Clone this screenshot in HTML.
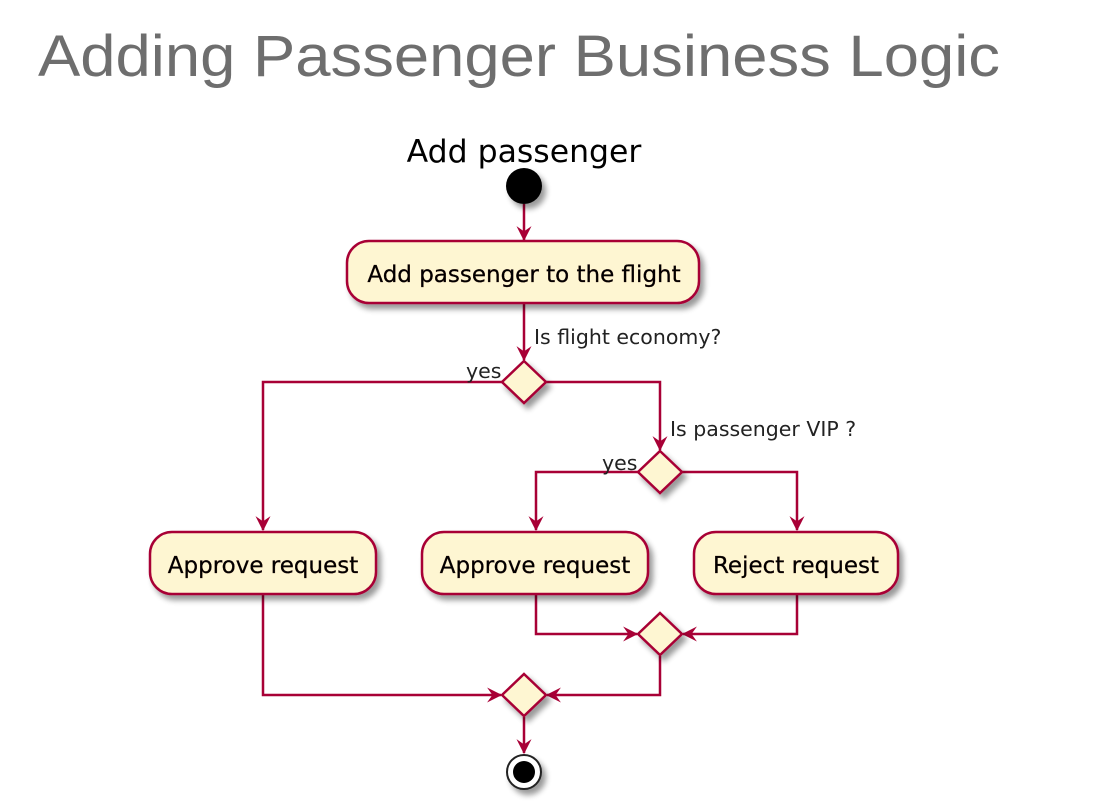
<!DOCTYPE html>
<html><head><meta charset="utf-8"><style>
html,body{margin:0;padding:0;background:#fff;width:1104px;height:803px;overflow:hidden}
svg{display:block}
</style></head><body>
<svg width="1104" height="803" viewBox="0 0 1104 803" xmlns="http://www.w3.org/2000/svg" font-family="'DejaVu Sans','Liberation Sans',sans-serif">
<defs>
<filter id="sh" x="-20%" y="-20%" width="150%" height="160%">
<feGaussianBlur in="SourceAlpha" stdDeviation="3"/>
<feOffset dx="4" dy="5"/>
<feComponentTransfer><feFuncA type="linear" slope="0.4"/></feComponentTransfer>
<feMerge><feMergeNode/><feMergeNode in="SourceGraphic"/></feMerge>
</filter>
<marker id="ar" viewBox="0 0 14 14" refX="13" refY="7" markerWidth="15" markerHeight="15" markerUnits="userSpaceOnUse" orient="auto">
<path d="M0,0 L14,7 L0,14 L5,7 Z" fill="#A80036"/>
</marker>
</defs>
<text x="38" y="76" font-family="'Liberation Sans',sans-serif" font-size="58" fill="#6e6e6e" textLength="962" lengthAdjust="spacingAndGlyphs">Adding Passenger Business Logic</text>
<text x="524" y="162" font-size="31.5" text-anchor="middle" fill="#000">Add passenger</text>

<g stroke="#A80036" stroke-width="2.5" fill="none">
<line x1="524" y1="204" x2="524" y2="240" marker-end="url(#ar)"/>
<line x1="524" y1="303" x2="524" y2="360" marker-end="url(#ar)"/>
<polyline points="502,382 263,382 263,530" marker-end="url(#ar)"/>
<polyline points="546,382 660,382 660,450" marker-end="url(#ar)"/>
<polyline points="638,472 536,472 536,530" marker-end="url(#ar)"/>
<polyline points="682,472 797,472 797,530" marker-end="url(#ar)"/>
<polyline points="536,594 536,634 637,634" marker-end="url(#ar)"/>
<polyline points="797,594 797,634 683,634" marker-end="url(#ar)"/>
<polyline points="660,656 660,695 547,695" marker-end="url(#ar)"/>
<polyline points="263,594 263,695 501,695" marker-end="url(#ar)"/>
<line x1="524" y1="717" x2="524" y2="753" marker-end="url(#ar)"/>
</g>

<circle cx="524" cy="186" r="18" fill="#000" filter="url(#sh)"/>

<g fill="#FEF6D2" stroke="#A80036" stroke-width="2.5" filter="url(#sh)">
<rect x="347" y="241" width="352" height="62" rx="22"/>
<rect x="150" y="532" width="226" height="62" rx="22"/>
<rect x="422" y="532" width="226" height="62" rx="22"/>
<rect x="694" y="532" width="204" height="62" rx="22"/>
<polygon points="524,361 546,382 524,403 502,382"/>
<polygon points="660,451 682,472 660,493 638,472"/>
<polygon points="660,613 682,634 660,655 638,634"/>
<polygon points="524,674 546,695 524,716 502,695"/>
</g>

<g font-size="23" fill="#000" text-anchor="middle" stroke="#200" stroke-width="0.3">
<text x="524" y="282">Add passenger to the flight</text>
<text x="263" y="573">Approve request</text>
<text x="535" y="573">Approve request</text>
<text x="796" y="573">Reject request</text>
</g>
<g font-size="20.5" fill="#222">
<text x="534" y="344">Is flight economy?</text>
<text x="466" y="378">yes</text>
<text x="670" y="436">Is passenger VIP ?</text>
<text x="602" y="470">yes</text>
</g>

<g filter="url(#sh)">
<circle cx="524" cy="772" r="17" fill="#fff" stroke="#222" stroke-width="2"/>
<circle cx="524" cy="772" r="11" fill="#000"/>
</g>
</svg>
</body></html>
